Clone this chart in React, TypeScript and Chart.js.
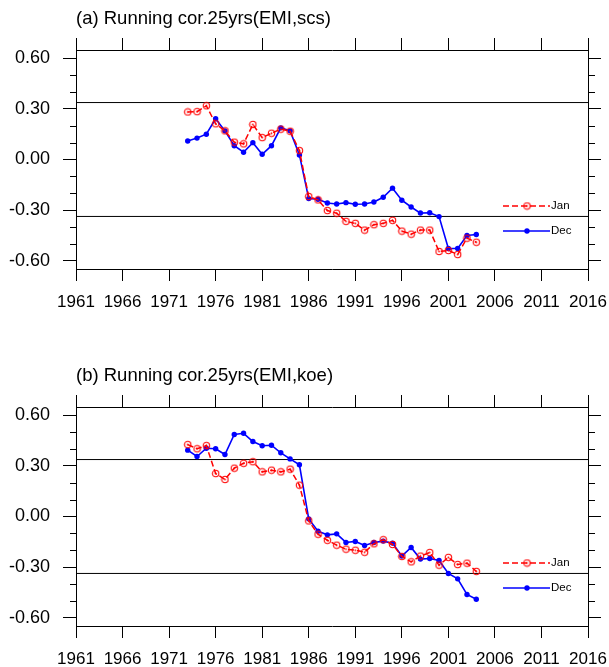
import React, { useEffect, useRef } from "react";
import { Chart, registerables } from "chart.js";

Chart.register(...registerables);

// ---------- data ----------
const years = [
  1973, 1974, 1975, 1976, 1977, 1978, 1979, 1980, 1981, 1982, 1983, 1984, 1985, 1986, 1987, 1988,
  1989, 1990, 1991, 1992, 1993, 1994, 1995, 1996, 1997, 1998, 1999, 2000, 2001, 2002, 2003, 2004,
];

const janA = [
  0.282, 0.284, 0.319, 0.212, 0.17, 0.103, 0.093, 0.208, 0.13, 0.156, 0.18, 0.168, 0.053, -0.22,
  -0.24, -0.303, -0.319, -0.367, -0.379, -0.419, -0.387, -0.379, -0.361, -0.425, -0.443, -0.419,
  -0.419, -0.546, -0.54, -0.564, -0.467, -0.491,
];
const decA = [
  0.11, 0.127, 0.15, 0.242, 0.17, 0.082, 0.043, 0.1, 0.031, 0.082, 0.188, 0.17, 0.027, -0.232,
  -0.236, -0.258, -0.264, -0.256, -0.266, -0.264, -0.252, -0.224, -0.17, -0.242, -0.282, -0.318,
  -0.316, -0.339, -0.528, -0.528, -0.451, -0.445,
];
const janB = [
  0.427, 0.402, 0.421, 0.255, 0.22, 0.287, 0.316, 0.325, 0.265, 0.275, 0.265, 0.281, 0.186, -0.026,
  -0.105, -0.141, -0.17, -0.194, -0.2, -0.212, -0.162, -0.138, -0.166, -0.237, -0.269, -0.235,
  -0.214, -0.289, -0.243, -0.285, -0.277, -0.326,
];
const decB = [
  0.394, 0.356, 0.405, 0.402, 0.368, 0.487, 0.494, 0.445, 0.42, 0.423, 0.378, 0.342, 0.307, -0.014,
  -0.087, -0.109, -0.103, -0.154, -0.148, -0.172, -0.154, -0.146, -0.158, -0.235, -0.184, -0.253,
  -0.249, -0.261, -0.338, -0.37, -0.463, -0.491,
];

const sigLevels = [0.338, -0.338];
const xRange = [1961, 2016];
const yRange = [-0.65, 0.65];
const yMinorTicks = [-0.5, -0.4, -0.2, -0.1, 0.1, 0.2, 0.4, 0.5];
const seriesNames = ["Jan", "Dec"];
const titles = ["(a) Running cor.25yrs(EMI,scs)", "(b) Running cor.25yrs(EMI,koe)"];

// ---------- styling ----------
const FONT = "'Liberation Sans', Arial, Helvetica, sans-serif";
const RED = "#ff0000";
const BLUE = "#0000ff";
const W = 609;
const H = 309;

function makeJanMarker(): HTMLCanvasElement {
  const c = document.createElement("canvas");
  c.width = 9;
  c.height = 9;
  const g = c.getContext("2d")!;
  g.strokeStyle = RED;
  g.lineWidth = 1.1;
  g.beginPath();
  g.arc(4.5, 4.5, 3.2, 0, Math.PI * 2);
  g.stroke();
  g.fillStyle = RED;
  g.beginPath();
  g.arc(4.5, 4.5, 0.9, 0, Math.PI * 2);
  g.fill();
  return c;
}

function decorPlugin(title: string, marker: HTMLCanvasElement) {
  return {
    id: "decor",
    afterDraw(chart: any) {
      const ctx = chart.ctx as CanvasRenderingContext2D;
      const { left, right } = chart.chartArea;
      const ys = chart.scales.y;
      ctx.save();
      // minor ticks
      ctx.strokeStyle = "#000";
      ctx.lineWidth = 1;
      ctx.beginPath();
      for (const v of yMinorTicks) {
        const py = Math.round(ys.getPixelForValue(v)) + 0.5;
        ctx.moveTo(left - 6, py);
        ctx.lineTo(left, py);
        ctx.moveTo(right, py);
        ctx.lineTo(right + 7, py);
      }
      ctx.stroke();
      // title
      ctx.fillStyle = "#000";
      ctx.font = `18.5px ${FONT}`;
      ctx.textAlign = "left";
      ctx.textBaseline = "alphabetic";
      ctx.fillText(title, 76, 24);
      // legend
      const lx0 = 503;
      const lx1 = 550;
      const mx = 527;
      const yJan = 206;
      const yDec = 231;
      ctx.lineWidth = 1.5;
      ctx.strokeStyle = RED;
      ctx.setLineDash([6, 3]);
      ctx.beginPath();
      ctx.moveTo(lx0, yJan);
      ctx.lineTo(lx1, yJan);
      ctx.stroke();
      ctx.setLineDash([]);
      ctx.drawImage(marker, mx - marker.width / 2, yJan - marker.height / 2);
      ctx.strokeStyle = BLUE;
      ctx.beginPath();
      ctx.moveTo(lx0, yDec);
      ctx.lineTo(lx1, yDec);
      ctx.stroke();
      ctx.fillStyle = BLUE;
      ctx.beginPath();
      ctx.arc(mx, yDec, 2.7, 0, Math.PI * 2);
      ctx.fill();
      ctx.fillStyle = "#000";
      ctx.font = `11.5px ${FONT}`;
      ctx.textBaseline = "middle";
      ctx.fillText(seriesNames[0], 551, yJan);
      ctx.fillText(seriesNames[1], 551, yDec);
      ctx.restore();
    },
  };
}

const noPad = (s: any) => {
  s.paddingLeft = 0;
  s.paddingRight = 0;
  s.paddingTop = 0;
  s.paddingBottom = 0;
};

function Panel({ title, jan, dec, top }: { title: string; jan: number[]; dec: number[]; top: number }) {
  const ref = useRef<HTMLCanvasElement | null>(null);
  useEffect(() => {
    const canvas = ref.current!;
    const marker = makeJanMarker();
    const hline = (v: number) => ({
      data: [
        { x: xRange[0], y: v },
        { x: xRange[1], y: v },
      ],
      borderColor: "#000",
      borderWidth: 1,
      pointRadius: 0,
      order: 3,
    });
    const axisGrid = (len: number) => ({
      drawOnChartArea: false,
      drawTicks: true,
      tickLength: len,
      color: "#000",
      tickColor: "#000",
      lineWidth: 1,
    });
    const chart = new Chart(canvas, {
      type: "line",
      data: {
        datasets: [
          {
            label: seriesNames[0],
            data: years.map((x, i) => ({ x, y: jan[i] })),
            borderColor: RED,
            borderWidth: 1.5,
            borderDash: [6, 3],
            pointStyle: marker as any,
            pointRadius: 4,
            order: 0,
          },
          {
            label: seriesNames[1],
            data: years.map((x, i) => ({ x, y: dec[i] })),
            borderColor: BLUE,
            backgroundColor: BLUE,
            borderWidth: 1.6,
            pointStyle: "circle",
            pointRadius: 2.7,
            pointBorderWidth: 0,
            order: 1,
          },
          hline(sigLevels[0]),
          hline(sigLevels[1]),
        ] as any,
      },
      options: {
        animation: false,
        responsive: false,
        devicePixelRatio: 1,
        events: [],
        layout: { autoPadding: false, padding: { top: 50, right: 21, left: 0, bottom: 0 } },
        plugins: { legend: { display: false }, tooltip: { enabled: false }, title: { display: false } },
        scales: {
          x: {
            type: "linear",
            position: "bottom",
            min: xRange[0],
            max: xRange[1],
            afterFit: (s: any) => {
              s.height = 40;
              noPad(s);
            },
            ticks: {
              stepSize: 5,
              autoSkip: false,
              maxRotation: 0,
              padding: 11,
              color: "#000",
              font: { family: FONT, size: 17 },
              callback: (v: any) => String(v),
            },
            grid: axisGrid(12),
            border: { display: true, color: "#000", width: 1 },
          },
          x2: {
            type: "linear",
            position: "top",
            min: xRange[0],
            max: xRange[1],
            afterFit: (s: any) => {
              s.height = 0;
              noPad(s);
            },
            ticks: { stepSize: 5, display: false },
            grid: axisGrid(12),
            border: { display: true, color: "#000", width: 1 },
          },
          y: {
            type: "linear",
            position: "left",
            min: yRange[0],
            max: yRange[1],
            afterFit: (s: any) => {
              s.width = 76;
              noPad(s);
            },
            ticks: {
              stepSize: 0.3,
              includeBounds: false,
              padding: 13,
              color: "#000",
              font: { family: FONT, size: 18 },
              callback: (v: any) => Number(v).toFixed(2),
            },
            grid: axisGrid(13),
            border: { display: true, color: "#000", width: 1 },
          },
          y2: {
            type: "linear",
            position: "right",
            min: yRange[0],
            max: yRange[1],
            afterFit: (s: any) => {
              s.width = 0;
              noPad(s);
            },
            ticks: { stepSize: 0.3, includeBounds: false, display: false },
            grid: axisGrid(13),
            border: { display: true, color: "#000", width: 1 },
          },
        },
      } as any,
      plugins: [decorPlugin(title, marker)],
    });
    return () => chart.destroy();
  }, [title, jan, dec]);
  return (
    <div style={{ position: "absolute", left: 0, top, width: W, height: H }}>
      <canvas ref={ref} width={W} height={H} style={{ width: W, height: H, display: "block" }} />
    </div>
  );
}

export default function App() {
  return (
    <div style={{ position: "fixed", left: 0, top: 0, width: 609, height: 667, background: "#fff" }}>
      <Panel title={titles[0]} jan={janA} dec={decA} top={0} />
      <Panel title={titles[1]} jan={janB} dec={decB} top={357} />
    </div>
  );
}
